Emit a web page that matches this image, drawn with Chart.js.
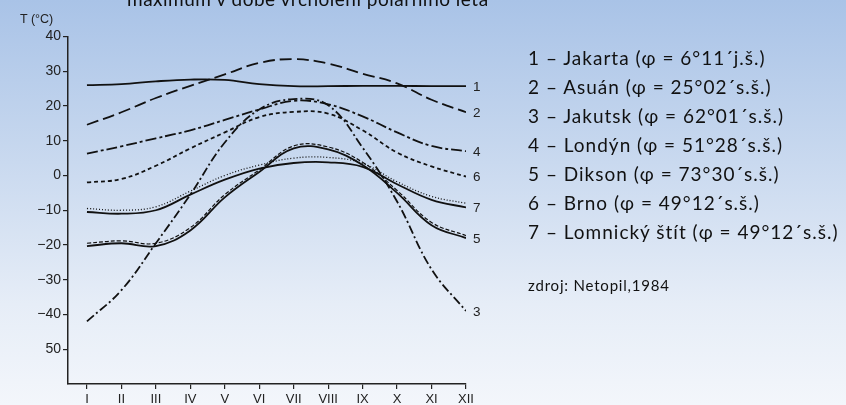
<!DOCTYPE html>
<html>
<head>
<meta charset="utf-8">
<script src="https://cdn.jsdelivr.net/npm/chart.js@4"></script>
<style>
  html, body { margin: 0; padding: 0; }
  body {
    width: 846px; height: 405px; overflow: hidden; position: relative;
    background: linear-gradient(to bottom, #a9c3e7 0%, #c9d9ef 40%, #e6edf7 75%, #f3f6fb 100%);
    font-family: Lato, "Open Sans", sans-serif;
  }
  #wrap { position: absolute; left: 0; top: 0; width: 846px; height: 405px; }
  .title { position: absolute; left: 127px; top: -13px; font-size: 19px; letter-spacing: 0.5px; color: #111; white-space: nowrap; }
  .yname { position: absolute; left: 20px; top: 12px; font: 12.5px "Liberation Sans", Arial, sans-serif; color: #222; }
  .legend { position: absolute; left: 528px; top: 43px; font-size: 19px; letter-spacing: 1px; line-height: 29px; color: #111; white-space: nowrap; }
  .source { position: absolute; left: 528px; top: 276px; font-size: 15px; letter-spacing: 0.8px; color: #111; }
</style>
</head>
<body>
<div id="wrap"><canvas id="chart" width="846" height="405"></canvas></div>
<div class="title">maximum v době vrcholení polárního léta</div>
<div class="yname">T (°C)</div>
<div class="legend" id="legend"></div>
<div class="source">zdroj: Netopil,1984</div>
<script>
// months I..XII
const months = ['I', 'II', 'III', 'IV', 'V', 'VI', 'VII', 'VIII', 'IX', 'X', 'XI', 'XII'];
const yTicks = [40, 30, 20, 10, 0, -10, -20, -30, -40, -50];
const yTickLabels = ['40', '30', '20', '10', '0', '\u221210', '\u221220', '\u221230', '\u221240', '50'];

// mean monthly temperatures
const jakarta = [26, 26.3, 27.1, 27.6, 27.5, 26.3, 25.7, 25.7, 25.8, 25.8, 25.7, 25.7];
const asuan = [14.6, 18.2, 22.3, 25.8, 29.1, 32.4, 33.5, 32.2, 29.3, 26.5, 21.8, 18.2];
const jakutsk = [-42, -33, -19.5, -5.5, 9.5, 19, 22, 20.2, 8, -7.5, -27, -39];
const londyn = [6.3, 8.4, 10.7, 13, 16, 19, 21.5, 20.5, 17, 12.4, 8.5, 7];
const dikson = [-20.3, -19.5, -20.3, -15.8, -6.3, 1, 7.8, 7.5, 3, -5, -14.3, -18];
const diksonB = [-19.5, -18.8, -19.5, -15, -5.5, 1.6, 8.5, 8.2, 3.8, -4.3, -13.5, -17.3];
const brno = [-2, -1, 2.8, 7.8, 12.4, 16.8, 18.3, 17.8, 13, 6.6, 2.6, -0.3];
const lomnicky = [-10.5, -11, -10, -5.5, -1.2, 2, 3.6, 3.8, 2.5, -2.5, -7, -9.2];
const lomnickyB = [-9.5, -10, -9, -4.5, 0, 3, 5, 5.2, 3.5, -1.8, -6, -8];

const legendLines = [
  '1 \u2013 Jakarta (\u03c6 = 6\u00b011\u00b4j.\u0161.)',
  '2 \u2013 Asu\u00e1n (\u03c6 = 25\u00b002\u00b4s.\u0161.)',
  '3 \u2013 Jakutsk (\u03c6 = 62\u00b001\u00b4s.\u0161.)',
  '4 \u2013 Lond\u00fdn (\u03c6 = 51\u00b028\u00b4s.\u0161.)',
  '5 \u2013 Dikson (\u03c6 = 73\u00b030\u00b4s.\u0161.)',
  '6 \u2013 Brno (\u03c6 = 49\u00b012\u00b4s.\u0161.)',
  '7 \u2013 Lomnick\u00fd \u0161t\u00edt (\u03c6 = 49\u00b012\u00b4s.\u0161.)'
];
document.getElementById('legend').innerHTML = legendLines.join('<br>');

function pts(arr) {
    return arr.map((v, i) => ({ x: i + 1, y: v }));
}

function line(label, arr, dash, endLabel, width) {
    return {
        label: label,
        data: pts(arr),
        borderColor: '#111',
        borderWidth: width || 1.8,
        borderDash: dash,
        pointRadius: 0,
        tension: 0.4,
        fill: false,
        endLabel: endLabel
    };
}

// numbers at the right end of the curves
const endLabels = {
    id: 'endLabels',
    afterDatasetsDraw(chart) {
        const c = chart.ctx;
        c.save();
        c.font = '13.5px "Liberation Sans", Arial, sans-serif';
        c.fillStyle = '#222';
        c.textBaseline = 'middle';
        chart.data.datasets.forEach((ds, i) => {
            if (!ds.endLabel) return;
            const p = chart.getDatasetMeta(i).data[ds.data.length - 1];
            c.fillText(ds.endLabel, p.x + 7, p.y + 1);
        });
        c.restore();
    }
};

const ctx = document.getElementById('chart').getContext('2d');
const chart = new Chart(ctx, {
    type: 'line',
    data: {
        datasets: [
            line('1', jakarta, [], '1'),
            line('2', asuan, [12, 5], '2'),
            line('3', jakutsk, [9, 3, 2, 3], '3'),
            line('4', londyn, [11, 3, 3, 3], '4'),
            line('5', dikson, [], '5'),
            line('5b', diksonB, [4, 2], null, 1.2),
            line('6', brno, [4, 3], '6'),
            line('7', lomnicky, [], '7'),
            line('7b', lomnickyB, [1, 2], null, 1.3)
        ]
    },
    options: {
        responsive: false,
        animation: false,
        devicePixelRatio: 1,
        layout: { padding: { top: 36.5, left: 0, right: 380, bottom: 0 } },
        plugins: { legend: { display: false }, tooltip: { enabled: false } },
        scales: {
            x: {
                type: 'linear',
                min: 0.45,
                max: 12,
                afterBuildTicks: (scale) => { scale.ticks = months.map((m, i) => ({ value: i + 1 })); },
                afterFit: (scale) => { scale.height = 21; },
                border: { display: true, color: '#222', width: 1.5 },
                grid: { drawOnChartArea: false, drawTicks: true, tickLength: 5, color: '#222', lineWidth: 1.2 },
                ticks: {
                    autoSkip: false,
                    maxRotation: 0,
                    padding: 3,
                    color: '#222',
                    font: { family: '"Liberation Sans", Arial, sans-serif', size: 13 },
                    callback: (v) => months[v - 1]
                }
            },
            y: {
                min: -60,
                max: 40,
                afterBuildTicks: (scale) => { scale.ticks = yTicks.map(v => ({ value: v })); },
                afterFit: (scale) => { scale.width = 68; },
                border: { display: true, color: '#222', width: 1.5 },
                grid: { drawOnChartArea: false, drawTicks: true, tickLength: 5, color: '#222', lineWidth: 1.2 },
                ticks: {
                    autoSkip: false,
                    padding: 2,
                    color: '#222',
                    font: { family: '"Liberation Sans", Arial, sans-serif', size: 14 },
                    callback: (v) => yTickLabels[yTicks.indexOf(v)]
                }
            }
        }
    },
    plugins: [endLabels]
});
</script>
</body>
</html>
